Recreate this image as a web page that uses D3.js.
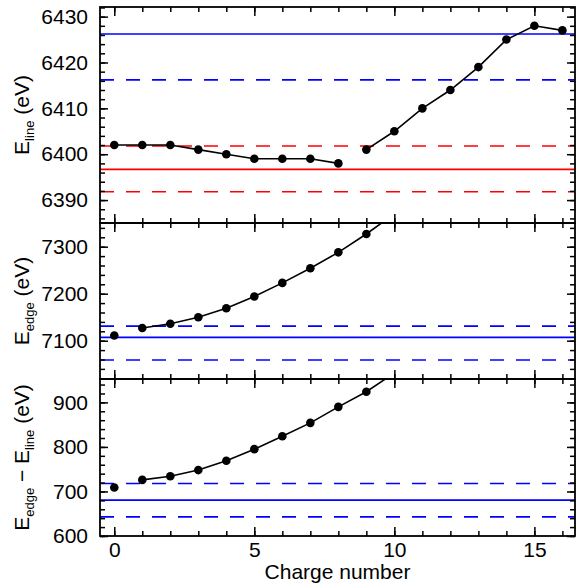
<!DOCTYPE html>
<html>
<head>
<meta charset="utf-8">
<script src="https://cdn.jsdelivr.net/npm/d3@7"></script>
<style>
body { margin: 0; background: #fff; }
text { font-family: "Liberation Sans", Arial, sans-serif; }
</style>
</head>
<body>
<div id="chart"></div>
<script>
// chart data
let chargeLow = [0, 1, 2, 3, 4, 5, 6, 7, 8];
let eLineLow = [6402, 6402, 6402, 6401, 6400, 6399, 6399, 6399, 6398];
let chargeHigh = [9, 10, 11, 12, 13, 14, 15, 16];
let eLineHigh = [6401, 6405, 6410, 6414, 6419, 6425, 6428, 6427];

let chargeEdge = [0, 1, 2, 3, 4, 5, 6, 7, 8, 9, 10];
let eEdge = [7111, 7127, 7136, 7150, 7169, 7194, 7223, 7254, 7288, 7327, 7370];
let eDiff = [709, 726, 734, 748, 769, 795, 824, 854, 890, 924, 966];

// reference levels
let lineRed = [6396.7, 6391.8, 6401.8];   // solid, dashed, dashed
let lineBlue = [6426.2, 6416.2];
let edgeBlue = [7107, 7131, 7059];
let diffBlue = [680.5, 718, 643];

// tick labels
let xTicks = [0, 5, 10, 15];
let lineTicks = [6390, 6400, 6410, 6420, 6430];
let edgeTicks = [7100, 7200, 7300];
let diffTicks = [600, 700, 800, 900];

let width = 579, height = 588;
let left = 100, right = 575;
let fontSize = 21;

let svg = d3.select("#chart").append("svg")
	.attr("width", width)
	.attr("height", height);

let x = d3.scaleLinear().domain([-0.51, 16.45]).range([left, right]);
let xMinor = d3.range(0, 17, 1);

let panels = [
	{id: "line", top: 7, bottom: 223, domain: [6385, 6432.1], ticks: lineTicks, minor: 2},
	{id: "edge", top: 223, bottom: 379, domain: [7018.5, 7350.4], ticks: edgeTicks, minor: 20},
	{id: "diff", top: 379, bottom: 536, domain: [600, 952.5], ticks: diffTicks, minor: 20}
];

panels.forEach(p => {
	p.y = d3.scaleLinear().domain(p.domain).range([p.bottom, p.top]);
	let lo = Math.ceil(p.domain[0] / p.minor) * p.minor;
	p.minorTicks = d3.range(lo, p.domain[1], p.minor);
	svg.append("clipPath").attr("id", "clip-" + p.id)
		.append("rect")
		.attr("x", left).attr("y", p.top)
		.attr("width", right - left).attr("height", p.bottom - p.top);
});

function styleAxis(g) {
	g.select(".domain").remove();
	g.selectAll("line").attr("stroke", "#000").attr("stroke-width", 1.5);
	g.attr("font-size", fontSize).attr("font-family", "'Liberation Sans', Arial, sans-serif");
	g.selectAll("text").attr("fill", "#000");
}

function drawAxes(p, showX) {
	let g = svg.append("g");
	// left
	g.append("g").attr("transform", `translate(${left},0)`)
		.call(d3.axisLeft(p.y).tickValues(p.minorTicks).tickSize(-5).tickSizeOuter(0).tickFormat(""))
		.call(styleAxis);
	g.append("g").attr("transform", `translate(${left},0)`)
		.call(d3.axisLeft(p.y).tickValues(p.ticks).tickSize(-8).tickSizeOuter(0).tickPadding(12).tickFormat(d3.format("d")))
		.call(styleAxis);
	// right
	g.append("g").attr("transform", `translate(${right},0)`)
		.call(d3.axisRight(p.y).tickValues(p.minorTicks).tickSize(-5).tickSizeOuter(0).tickFormat(""))
		.call(styleAxis);
	g.append("g").attr("transform", `translate(${right},0)`)
		.call(d3.axisRight(p.y).tickValues(p.ticks).tickSize(-8).tickSizeOuter(0).tickFormat(""))
		.call(styleAxis);
	// top
	g.append("g").attr("transform", `translate(0,${p.top})`)
		.call(d3.axisTop(x).tickValues(xMinor).tickSize(-5).tickSizeOuter(0).tickFormat(""))
		.call(styleAxis);
	g.append("g").attr("transform", `translate(0,${p.top})`)
		.call(d3.axisTop(x).tickValues(xTicks).tickSize(-9).tickSizeOuter(0).tickFormat(""))
		.call(styleAxis);
	// bottom
	g.append("g").attr("transform", `translate(0,${p.bottom})`)
		.call(d3.axisBottom(x).tickValues(xMinor).tickSize(-5).tickSizeOuter(0).tickFormat(""))
		.call(styleAxis);
	g.append("g").attr("transform", `translate(0,${p.bottom})`)
		.call(d3.axisBottom(x).tickValues(xTicks).tickSize(-9).tickSizeOuter(0).tickPadding(6)
			.tickFormat(showX ? d3.format("d") : ""))
		.call(styleAxis);
	// frame
	g.append("rect")
		.attr("x", left).attr("y", p.top)
		.attr("width", right - left).attr("height", p.bottom - p.top)
		.attr("fill", "none").attr("stroke", "#000").attr("stroke-width", 1.8);
}

function refLines(p, values, color) {
	let g = svg.append("g").attr("clip-path", `url(#clip-${p.id})`);
	g.selectAll("line")
		.data(values)
		.enter()
		.append("line")
		.attr("x1", left).attr("x2", right)
		.attr("y1", d => p.y(d)).attr("y2", d => p.y(d))
		.attr("stroke", color)
		.attr("stroke-width", 1.6)
		.attr("stroke-dasharray", (d, i) => i == 0 ? null : "14,12");
}

function series(p, xs, ys, lineFrom) {
	let g = svg.append("g").attr("clip-path", `url(#clip-${p.id})`);
	let pts = xs.map((c, i) => [c, ys[i]]);
	let line = d3.line().x(d => x(d[0])).y(d => p.y(d[1]));
	g.append("path")
		.datum(pts.slice(lineFrom))
		.attr("d", line)
		.attr("fill", "none")
		.attr("stroke", "#000")
		.attr("stroke-width", 1.6);
	g.selectAll("circle")
		.data(pts)
		.enter()
		.append("circle")
		.attr("cx", d => x(d[0]))
		.attr("cy", d => p.y(d[1]))
		.attr("r", 4.3)
		.attr("fill", "#000");
}

// panel 1: E_line
refLines(panels[0], lineBlue, "#0000ff");
refLines(panels[0], lineRed, "#ff0000");
series(panels[0], chargeLow, eLineLow, 0);
series(panels[0], chargeHigh, eLineHigh, 0);

// panel 2: E_edge
refLines(panels[1], edgeBlue, "#0000ff");
series(panels[1], chargeEdge, eEdge, 1);

// panel 3: E_edge - E_line
refLines(panels[2], diffBlue, "#0000ff");
series(panels[2], chargeEdge, eDiff, 1);

panels.forEach((p, i) => drawAxes(p, i == 2));

// axis titles
svg.append("text")
	.attr("x", (left + right) / 2)
	.attr("y", 579)
	.attr("text-anchor", "middle")
	.attr("font-size", fontSize)
	.text("Charge number");

function yTitle(p, parts) {
	let t = svg.append("text")
		.attr("text-anchor", "middle")
		.attr("font-size", fontSize)
		.attr("transform", `translate(29,${(p.top + p.bottom) / 2}) rotate(-90)`);
	parts.forEach(part => {
		let s = t.append("tspan").text(part[0]);
		if (part[1] == "sub") s.attr("font-size", 13).attr("dy", 5);
		if (part[1] == "up") s.attr("dy", -5);
	});
}
yTitle(panels[0], [["E"], ["line", "sub"], [" (eV)", "up"]]);
yTitle(panels[1], [["E"], ["edge", "sub"], [" (eV)", "up"]]);
yTitle(panels[2], [["E"], ["edge", "sub"], [" \u2212 E", "up"], ["line", "sub"], [" (eV)", "up"]]);
</script>
</body>
</html>
